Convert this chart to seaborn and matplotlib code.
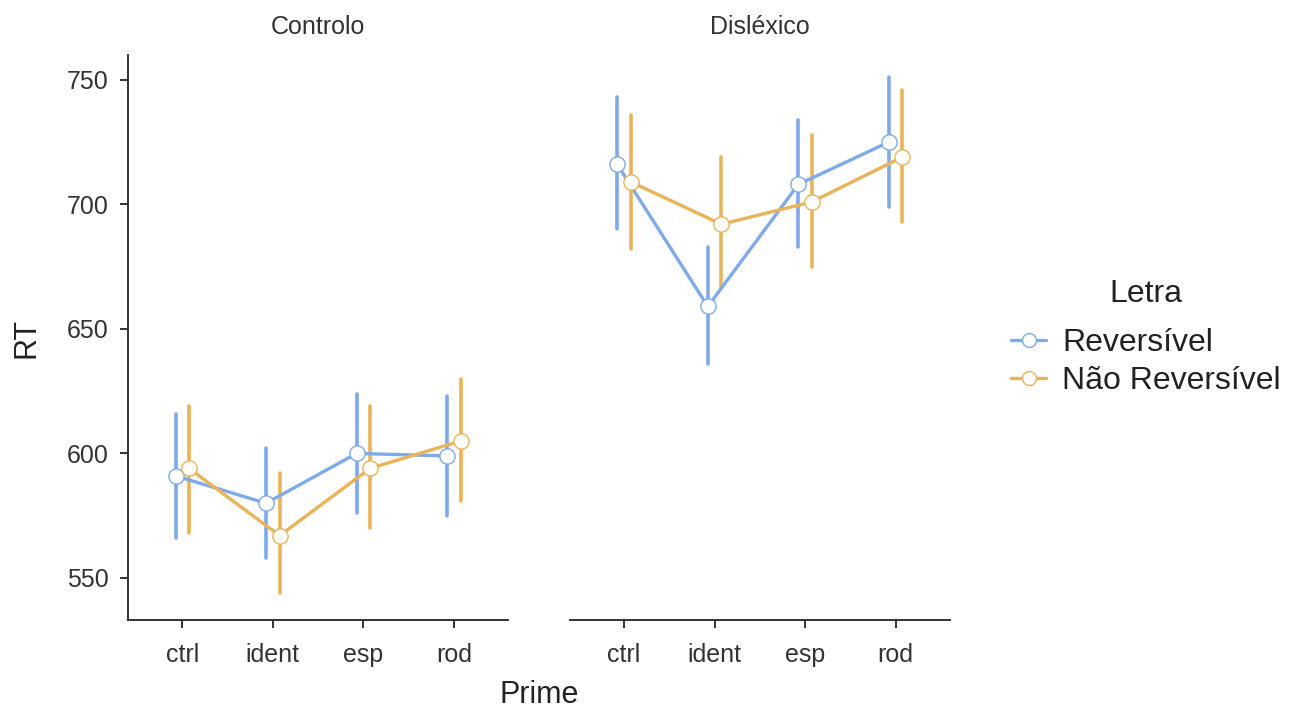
import numpy as np
import pandas as pd
import matplotlib
matplotlib.use("Agg")
import matplotlib.pyplot as plt
import seaborn as sns
from matplotlib.lines import Line2D

# ---------------------------------------------
# dados (médias e IC)
# ---------------------------------------------
primes = ["ctrl", "ident", "esp", "rod"]
grupos = ["Controlo", "Disléxico"]
letras = ["Reversível", "Não Reversível"]

ctrl_rev_mean = [591, 580, 600, 599]
ctrl_rev_lo = [566, 558, 576, 575]
ctrl_rev_hi = [616, 602, 624, 623]

ctrl_nrev_mean = [594, 567, 594, 605]
ctrl_nrev_lo = [568, 544, 570, 581]
ctrl_nrev_hi = [619, 592, 619, 630]

dis_rev_mean = [716, 659, 708, 725]
dis_rev_lo = [690, 636, 683, 699]
dis_rev_hi = [743, 683, 734, 751]

dis_nrev_mean = [709, 692, 701, 719]
dis_nrev_lo = [682, 666, 675, 693]
dis_nrev_hi = [736, 719, 728, 746]

cores = ["#7eaaea", "#e9b459"]

series = {
    ("Controlo", "Reversível"): (ctrl_rev_mean, ctrl_rev_lo, ctrl_rev_hi),
    ("Controlo", "Não Reversível"): (ctrl_nrev_mean, ctrl_nrev_lo, ctrl_nrev_hi),
    ("Disléxico", "Reversível"): (dis_rev_mean, dis_rev_lo, dis_rev_hi),
    ("Disléxico", "Não Reversível"): (dis_nrev_mean, dis_nrev_lo, dis_nrev_hi),
}

# tabela longa: lo / média / hi por ponto -> mediana = média, min/max = IC
rows = []
for (g, l), (m, lo, hi) in series.items():
    for i, p in enumerate(primes):
        for v in (lo[i], m[i], hi[i]):
            rows.append({"Grupo": g, "Letra": l, "Prime": p, "RT": v})
df = pd.DataFrame(rows)

# ---------------------------------------------
# gráfico
# ---------------------------------------------
sns.set_style("ticks")
plt.rcParams["font.family"] = ["Liberation Sans", "DejaVu Sans"]

fig = plt.figure(figsize=(12.89, 7.13), dpi=100)
ax1 = fig.add_axes([0.0993, 0.130, 0.295, 0.793])
ax2 = fig.add_axes([0.442, 0.130, 0.295, 0.793], sharey=ax1)

for ax, g in zip([ax1, ax2], grupos):
    sub = df[df["Grupo"] == g]
    sns.pointplot(
        data=sub, x="Prime", y="RT", hue="Letra",
        order=primes, hue_order=letras, palette=cores,
        estimator="median", errorbar=lambda v: (v.min(), v.max()),
        dodge=0.15, markers="o", markersize=11, linewidth=2.4,
        err_kws={"linewidth": 2.6}, ax=ax, legend=False,
    )
    # marcadores brancos por cima das barras de erro
    for ln in ax.lines:
        if ln.get_marker() == "o":
            ln.set_markerfacecolor("white")
            ln.set_markeredgewidth(1.0)
            ln.set_zorder(5)
    ax.set_title(g, fontsize=18, color="#333333", pad=15)
    ax.set_xlim(-0.6, 3.6)
    ax.set_xlabel("")
    ax.tick_params(axis="both", labelsize=18, colors="#333333", length=6, width=1.4)
    ax.tick_params(axis="x", pad=10)
    ax.tick_params(axis="y", pad=8)
    for s in ["top", "right"]:
        ax.spines[s].set_visible(False)
    for s in ["bottom", "left"]:
        ax.spines[s].set_color("#333333")
        ax.spines[s].set_linewidth(1.4)

ax1.set_ylim(533, 760)
ax1.set_yticks([550, 600, 650, 700, 750])
ax1.set_ylabel("RT", fontsize=22, color="#222222", labelpad=18)
ax2.set_ylabel("")
ax2.spines["left"].set_visible(False)
ax2.tick_params(axis="y", left=False, labelleft=False)

fig.text(0.418, 0.014, "Prime", fontsize=22, color="#222222", ha="center",
         va="baseline")

handles = [
    Line2D([], [], color=c, marker="o", markersize=10, markerfacecolor="white",
           markeredgewidth=1.0, linewidth=2.4)
    for c in cores
]
leg = fig.legend(handles, letras, title="Letra", loc="center left",
                 bbox_to_anchor=(0.772, 0.527), frameon=False, fontsize=23,
                 title_fontsize=23, handlelength=1.1, handletextpad=0.5,
                 labelspacing=0.25, borderpad=0)
leg._legend_box.sep = 14
for t in leg.get_texts():
    t.set_color("#222222")
leg.get_title().set_color("#222222")

fig.savefig("out.png", dpi=100)
